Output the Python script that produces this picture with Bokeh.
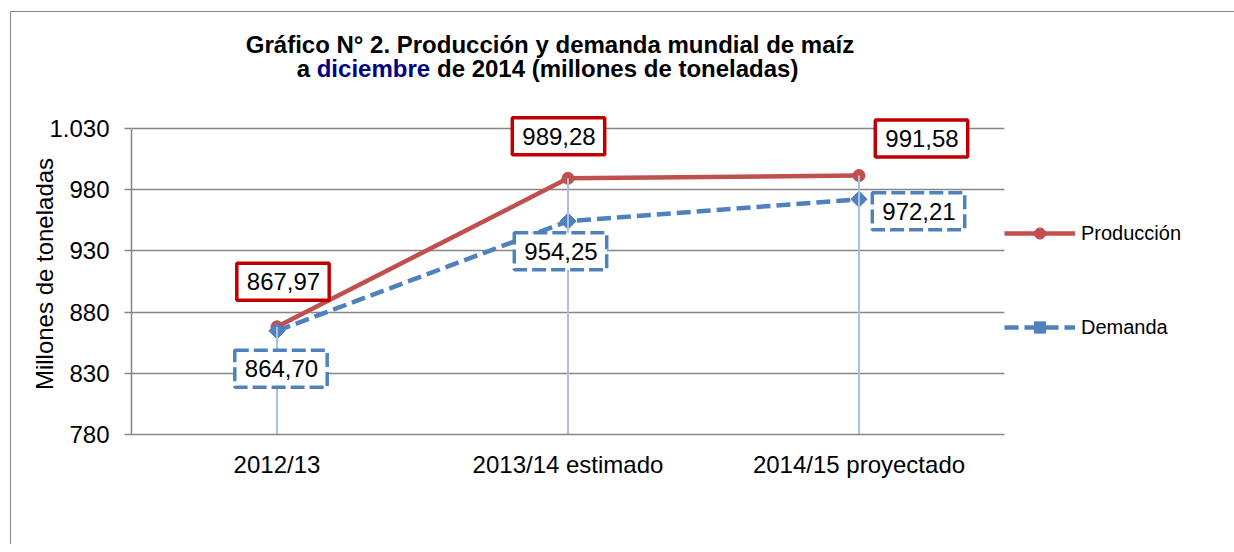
import numpy as np
from bokeh.plotting import figure
from bokeh.layouts import column
from bokeh.models import (ColumnDataSource, FactorRange, Range1d, Legend,
                          LegendItem, FixedTicker)
from bokeh.core.properties import value
from bokeh.embed import file_html
from bokeh.resources import INLINE

# ---------------- data ----------------
categories = ["2012/13", "2013/14 estimado", "2014/15 proyectado"]
produccion = [867.97, 989.28, 991.58]
demanda = [864.70, 954.25, 972.21]
y_ticks = [780, 830, 880, 930, 980, 1030]
y_tick_labels = ["780", "830", "880", "930", "980", "1.030"]
series_names = ["Producción", "Demanda"]
title_line1 = "Gráfico N° 2. Producción y demanda mundial de maíz"
title_line2 = ["a", "diciembre", "de 2014", "(millones de toneladas)"]
title_line2_colors = ["black", "#000080", "black", "black"]
y_axis_title = "Millones de toneladas"

# data-label offsets in pixels (dx right, dy down)
prod_label_dx = [6, -9.5, 62.5]
prod_label_dy = [-45, -42, -37]
dem_label_dx = [4, -7.5, 59.5]
dem_label_dy = [38, 30, 12]

FONT = "Liberation Sans"
RED = "#C0504D"
BLUE = "#4F81BD"
GRAY = "#868686"
OX, OY = 11.5, 12.5            # page position of the content origin (inside border)
TOTAL_W = 1215
TITLE_H = 95
LEFT_B, RIGHT_B, TOP_B, BOTTOM_B = 120, 222, 6, 110
FRAME_W, FRAME_H = 873, 321
PX_PER_UNIT = 306 / 250.0


def fmt(v):
    return f"{v:.2f}".replace(".", ",")


# ---------------- title figure (data coords == page pixels) ----------------
pt = figure(frame_width=TOTAL_W - LEFT_B, frame_height=TITLE_H,
            x_range=Range1d(OX + LEFT_B, OX + TOTAL_W), y_range=Range1d(OY + TITLE_H, OY),
            output_backend="svg", toolbar_location=None,
            min_border_left=LEFT_B, min_border_right=0, min_border_top=0,
            min_border_bottom=0, x_axis_type=None, y_axis_type=None)
pt.outline_line_color = None
pt.xgrid.grid_line_color = None
pt.ygrid.grid_line_color = None
pt.text(x=[550], y=[44], text=[title_line1], text_align="center",
        text_baseline="alphabetic", text_font=value(FONT), text_font_size="24px",
        text_font_style="bold", text_color="black")
pt.text(x=[296.7, 316.7, 437.0, 531.7], y=[68, 68, 68, 68], text=title_line2,
        text_color=title_line2_colors, text_align="left", text_baseline="alphabetic",
        text_font=value(FONT), text_font_size="24px", text_font_style="bold")

# ---------------- main figure ----------------
y_end = y_ticks[0] + FRAME_H / PX_PER_UNIT
p = figure(x_range=FactorRange(*categories), y_range=Range1d(y_ticks[0], y_end),
           frame_width=FRAME_W, frame_height=FRAME_H, output_backend="svg",
           toolbar_location=None, min_border_left=LEFT_B, min_border_right=RIGHT_B,
           min_border_top=TOP_B, min_border_bottom=BOTTOM_B)
p.outline_line_color = None
p.background_fill_color = "white"
p.border_fill_color = "white"

p.xgrid.grid_line_color = None
p.ygrid.grid_line_color = GRAY
p.ygrid.grid_line_width = 1.5

p.yaxis.ticker = FixedTicker(ticks=y_ticks)
p.yaxis.bounds = (y_ticks[0], y_ticks[-1])
p.yaxis.major_label_overrides = {t: l for t, l in zip(y_ticks, y_tick_labels)}
p.yaxis.axis_line_color = GRAY
p.yaxis.axis_line_width = 1.5
p.yaxis.major_tick_line_color = GRAY
p.yaxis.major_tick_line_width = 1.5
p.yaxis.major_tick_in = 0
p.yaxis.major_tick_out = 7
p.yaxis.minor_tick_line_color = None
p.yaxis.major_label_standoff = 15
p.yaxis.major_label_text_font = FONT
p.yaxis.major_label_text_font_size = "24px"
p.yaxis.major_label_text_color = "black"
p.yaxis.axis_label = y_axis_title
p.yaxis.axis_label_standoff = -12
p.yaxis.axis_label_text_font = FONT
p.yaxis.axis_label_text_font_size = "24px"
p.yaxis.axis_label_text_font_style = "normal"
p.yaxis.axis_label_text_color = "black"

p.xaxis.axis_line_color = GRAY
p.xaxis.axis_line_width = 1.5
p.xaxis.major_tick_line_color = None
p.xaxis.major_tick_in = 0
p.xaxis.major_tick_out = 0
p.xaxis.minor_tick_line_color = None
p.xaxis.major_label_standoff = 16
p.xaxis.major_label_text_font = FONT
p.xaxis.major_label_text_font_size = "24px"
p.xaxis.major_label_text_color = "black"

# series
r_p_line = p.line(categories, produccion, line_color=RED, line_width=4.5)
r_p_pts = p.scatter(categories, produccion, marker="circle", size=12,
                    fill_color=RED, line_color=RED)
r_d_line = p.line(categories, demanda, line_color=BLUE, line_width=4.5,
                  line_dash="14 6")
r_d_pts = p.scatter(categories, demanda, marker="square", angle=np.pi / 4, size=11.5,
                    fill_color=BLUE, line_color=BLUE)

# drop lines
p.segment(x0=categories, y0=list(np.maximum(produccion, demanda)), x1=categories,
          y1=[y_ticks[0]] * len(categories), line_color="#A9C0E4", line_width=2)

# data labels
src_p = ColumnDataSource(dict(x=categories, y=produccion,
                              text=[fmt(v) for v in produccion],
                              dx=prod_label_dx, dy=prod_label_dy))
p.text(x="x", y="y", text="text", source=src_p, x_offset="dx", y_offset="dy",
       text_align="center", text_baseline="middle", text_font=value(FONT),
       text_font_size="24px", text_color="black",
       background_fill_color="white", border_line_color="#C00000",
       border_line_width=3.5, padding=dict(left=10, right=9, top=10, bottom=10))

src_d = ColumnDataSource(dict(x=categories, y=demanda,
                              text=[fmt(v) for v in demanda],
                              dx=dem_label_dx, dy=dem_label_dy))
p.text(x="x", y="y", text="text", source=src_d, x_offset="dx", y_offset="dy",
       text_align="center", text_baseline="middle", text_font=value(FONT),
       text_font_size="24px", text_color="black",
       background_fill_color="white", border_line_color=BLUE,
       border_line_width=3.5, border_line_dash="14 5",
       padding=dict(left=10, right=9, top=10, bottom=10))

# legend
legend = Legend(items=[LegendItem(label=series_names[0], renderers=[r_p_line, r_p_pts]),
                       LegendItem(label=series_names[1], renderers=[r_d_line, r_d_pts])],
                location=(0, 93), glyph_width=71, glyph_height=28, label_height=28,
                spacing=66, label_standoff=6, padding=0, margin=0,
                border_line_color=None, background_fill_alpha=0,
                label_text_font=FONT, label_text_font_size="20px",
                label_text_color="black")
p.add_layout(legend, "right")

layout = column(pt, p, spacing=0, margin=(11, 0, 0, 10),
                styles={"border-left": "1.5px solid #868686",
                        "border-top": "1.5px solid #868686"})

open("out.html", "w").write(file_html(layout, INLINE))
